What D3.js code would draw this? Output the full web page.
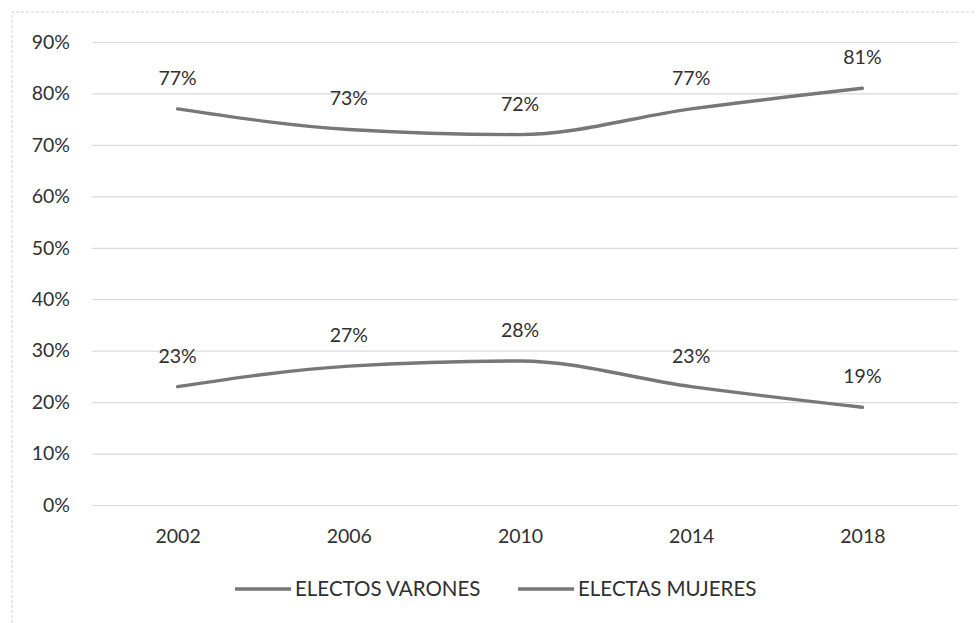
<!DOCTYPE html>
<html>
<head>
<meta charset="utf-8">
<script src="https://cdn.jsdelivr.net/npm/d3@7"></script>
<style>
  html, body { margin: 0; padding: 0; background: #fff; }
  svg { display: block; font-family: Lato, "Open Sans", sans-serif; }
</style>
</head>
<body>
<svg id="chart" width="976" height="623"></svg>
<script>
// Election years and share of elected officials by sex (%)
const years = ["2002", "2006", "2010", "2014", "2018"];
const electosVarones = [77, 73, 72, 77, 81];
const electasMujeres = [23, 27, 28, 23, 19];
const yTicks = [0, 10, 20, 30, 40, 50, 60, 70, 80, 90];
const seriesNames = ["ELECTOS VARONES", "ELECTAS MUJERES"];

const svg = d3.select("#chart");
const W = 976, H = 623;
const plot = { left: 92, right: 948, top: 42, bottom: 505 };

const x = d3.scalePoint().domain(years).range([plot.left, plot.right]).padding(0.5);
const y = d3.scaleLinear().domain([0, 90]).range([plot.bottom, plot.top]);

const textColor = "#303030";
const lineColor = "#777777";

// chart frame (left and top edges)
svg.append("path")
  .attr("d", `M12,${H} L12,12 L${W},12`)
  .attr("fill", "none")
  .attr("stroke", "#cfcfcf")
  .attr("stroke-width", 1)
  .attr("stroke-dasharray", "3,2");

// horizontal gridlines
const yAxis = d3.axisLeft(y)
  .tickValues(yTicks)
  .tickSize(-(plot.right - plot.left + 10))
  .tickPadding(22)
  .tickFormat(d => d + "%");

const gy = svg.append("g")
  .attr("transform", `translate(${plot.left},0)`)
  .call(yAxis);
gy.select(".domain").remove();
gy.selectAll(".tick line")
  .attr("stroke", "#dadada")
  .attr("stroke-width", 1.2);
gy.selectAll(".tick text")
  .attr("fill", textColor)
  .attr("font-size", 19.5)
  .attr("font-family", "Lato, sans-serif");

// category axis labels
const xAxis = d3.axisBottom(x).tickSize(0).tickPadding(24);
const gx = svg.append("g")
  .attr("transform", `translate(0,${plot.bottom})`)
  .call(xAxis);
gx.select(".domain").remove();
gx.selectAll(".tick text")
  .attr("fill", textColor)
  .attr("font-size", 19.5)
  .attr("font-family", "Lato, sans-serif");

// series lines (smoothed) with value labels
const line = d3.line()
  .x((d, i) => x(years[i]))
  .y(d => y(d))
  .curve(d3.curveMonotoneX);

[electosVarones, electasMujeres].forEach(values => {
  svg.append("path")
    .datum(values)
    .attr("d", line)
    .attr("fill", "none")
    .attr("stroke", lineColor)
    .attr("stroke-width", 3.4)
    .attr("stroke-linecap", "round");

  svg.append("g")
    .selectAll("text")
    .data(values)
    .join("text")
    .attr("x", (d, i) => x(years[i]))
    .attr("y", d => y(d) - 24)
    .attr("text-anchor", "middle")
    .attr("fill", textColor)
    .attr("font-size", 19.5)
    .text(d => d + "%");
});

// legend
const legendItems = [
  { name: seriesNames[0], x0: 235 },
  { name: seriesNames[1], x0: 518 }
];
const legendY = 589;
const lg = svg.append("g");
legendItems.forEach(it => {
  lg.append("line")
    .attr("x1", it.x0).attr("x2", it.x0 + 56)
    .attr("y1", legendY).attr("y2", legendY)
    .attr("stroke", lineColor)
    .attr("stroke-width", 3.4);
  lg.append("text")
    .attr("x", it.x0 + 60)
    .attr("y", legendY)
    .attr("dy", "0.35em")
    .attr("fill", textColor)
    .attr("font-size", 20.5)
    .text(it.name);
});
</script>
</body>
</html>
